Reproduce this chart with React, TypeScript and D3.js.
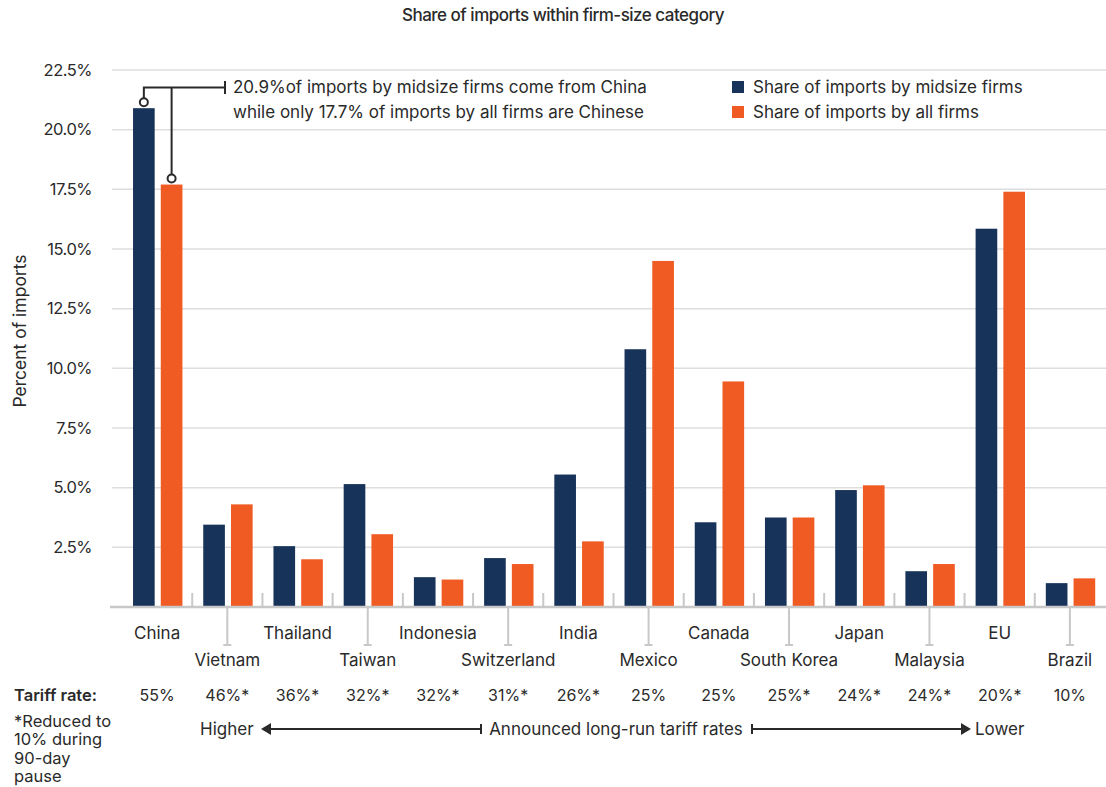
import * as d3 from "d3";

const categories = [
  "China", "Vietnam", "Thailand", "Taiwan", "Indonesia", "Switzerland", "India",
  "Mexico", "Canada", "South Korea", "Japan", "Malaysia", "EU", "Brazil",
];
const midsizeShare = [20.9, 3.45, 2.55, 5.15, 1.25, 2.05, 5.55, 10.8, 3.55, 3.75, 4.9, 1.5, 15.85, 1.0];
const allFirmsShare = [17.7, 4.3, 2.0, 3.05, 1.15, 1.8, 2.75, 14.5, 9.45, 3.75, 5.1, 1.8, 17.4, 1.2];
const tariffRates = ["55%", "46%*", "36%*", "32%*", "32%*", "31%*", "26%*", "25%", "25%", "25%*", "24%*", "24%*", "20%*", "10%"];
const yTicks = [2.5, 5, 7.5, 10, 12.5, 15, 17.5, 20, 22.5];
const seriesNames = ["Share of imports by midsize firms", "Share of imports by all firms"];
const footnote = ["*Reduced to", "10% during", "90-day", "pause"];

const width = 1106;
const height = 787;
const navy = "#18335a";
const orange = "#f05a23";
const ink = "#2a2a2a";
const font = "Inter, 'Noto Sans', sans-serif";

export default function App() {
  const x = d3.scaleBand<string>().domain(categories).range([122, 1105]);
  const inner = d3
    .scaleBand<number>()
    .domain([0, 1])
    .range([0, x.bandwidth()])
    .paddingInner(0.22)
    .paddingOuter(0.375)
    .align(0.53);
  const y = d3.scaleLinear().domain([0, 22.5]).range([607, 70]);
  const series = [midsizeShare, allFirmsShare];
  const colors = [navy, orange];
  const cx = (c: string) => (x(c) ?? 0) + x.bandwidth() / 2;
  const barCenter = (i: number, s: number) =>
    (x(categories[i]) ?? 0) + (inner(s) ?? 0) + inner.bandwidth() / 2;

  const base = y(0);
  const arrowY = 729;

  return (
    <svg
      width={width}
      height={height}
      style={{ position: "absolute", left: 0, top: 0, background: "#fff" }}
      fontFamily={font}
      fill={ink}
    >
      <text x={563} y={21} textAnchor="middle" fontSize={17} fontWeight={500} letterSpacing={-0.5}>
        Share of imports within firm-size category
      </text>

      {/* grid */}
      {yTicks.map((t) => (
        <g key={t}>
          <line x1={112} x2={width} y1={y(t)} y2={y(t)} stroke="#dedede" strokeWidth={1.5} />
          <text x={92} y={y(t)} dy="0.35em" textAnchor="end" fontSize={16.5} letterSpacing={-0.5}>
            {d3.format(".1f")(t)}%
          </text>
        </g>
      ))}

      <text transform="translate(26, 331) rotate(-90)" textAnchor="middle" fontSize={17.5}>
        Percent of imports
      </text>

      {/* bars */}
      {series.map((vals, s) =>
        vals.map((v, i) => (
          <rect
            key={`${s}-${i}`}
            x={(x(categories[i]) ?? 0) + (inner(s) ?? 0)}
            y={y(v)}
            width={inner.bandwidth()}
            height={base - y(v)}
            fill={colors[s]}
          />
        ))
      )}

      {/* baseline and ticks */}
      <line x1={110} x2={width} y1={base} y2={base} stroke="#c8c8c8" strokeWidth={2.5} />
      {categories.slice(1).map((c) => (
        <line key={c} x1={x(c)} x2={x(c)} y1={base - 14} y2={base} stroke="#c8c8c8" strokeWidth={2} />
      ))}
      {categories.map((c, i) =>
        i % 2 === 1 ? (
          <g key={c} stroke="#c8c8c8" strokeWidth={2}>
            <line x1={cx(c)} x2={cx(c)} y1={base} y2={645} />
            <line x1={cx(c) - 4} x2={cx(c) + 4} y1={645} y2={645} />
          </g>
        ) : null
      )}
      {categories.map((c, i) => (
        <text key={c} x={cx(c)} y={i % 2 === 0 ? 639 : 666} textAnchor="middle" fontSize={17}>
          {c}
        </text>
      ))}

      {/* tariff row */}
      <text x={14} y={701} fontSize={16.5} fontWeight={600}>
        Tariff rate:
      </text>
      {categories.map((c, i) => (
        <text key={c} x={cx(c)} y={701} textAnchor="middle" fontSize={16}>
          {tariffRates[i]}
        </text>
      ))}

      {footnote.map((t, i) => (
        <text key={t} x={14} y={727 + i * 18.3} fontSize={16.5}>
          {t}
        </text>
      ))}

      {/* long-run arrow */}
      <text x={200} y={735} fontSize={17}>Higher</text>
      <g stroke={ink} strokeWidth={2}>
        <line x1={268} x2={481} y1={arrowY} y2={arrowY} />
        <line x1={481} x2={481} y1={arrowY - 5} y2={arrowY + 5} />
        <line x1={752} x2={963} y1={arrowY} y2={arrowY} />
        <line x1={752} x2={752} y1={arrowY - 5} y2={arrowY + 5} />
      </g>
      <path d={`M261,${arrowY}L271,${arrowY - 6}L271,${arrowY + 6}Z`} fill={ink} />
      <path d={`M971,${arrowY}L961,${arrowY - 6}L961,${arrowY + 6}Z`} fill={ink} />
      <text x={616} y={735} textAnchor="middle" fontSize={17}>
        Announced long-run tariff rates
      </text>
      <text x={975} y={735} fontSize={17}>Lower</text>

      {/* annotation */}
      <g stroke={ink} strokeWidth={2} fill="none">
        <path d={`M${barCenter(0, 0)},${y(midsizeShare[0]) - 10}V87.5H225`} />
        <line x1={225} x2={225} y1={81} y2={94} />
        <line x1={barCenter(0, 1)} x2={barCenter(0, 1)} y1={87.5} y2={y(allFirmsShare[0]) - 10} />
        <circle cx={barCenter(0, 0)} cy={y(midsizeShare[0]) - 6} r={4} fill="#fff" />
        <circle cx={barCenter(0, 1)} cy={y(allFirmsShare[0]) - 6} r={4} fill="#fff" />
      </g>
      <text x={233} y={93} fontSize={17}>
        20.9%of imports by midsize firms come from China
      </text>
      <text x={233} y={118} fontSize={17}>
        while only 17.7% of imports by all firms are Chinese
      </text>

      {/* legend */}
      {seriesNames.map((n, s) => (
        <g key={n} transform={`translate(732, ${81 + s * 25})`}>
          <rect width={12} height={12} fill={colors[s]} />
          <text x={21} y={12} fontSize={17}>{n}</text>
        </g>
      ))}
    </svg>
  );
}
